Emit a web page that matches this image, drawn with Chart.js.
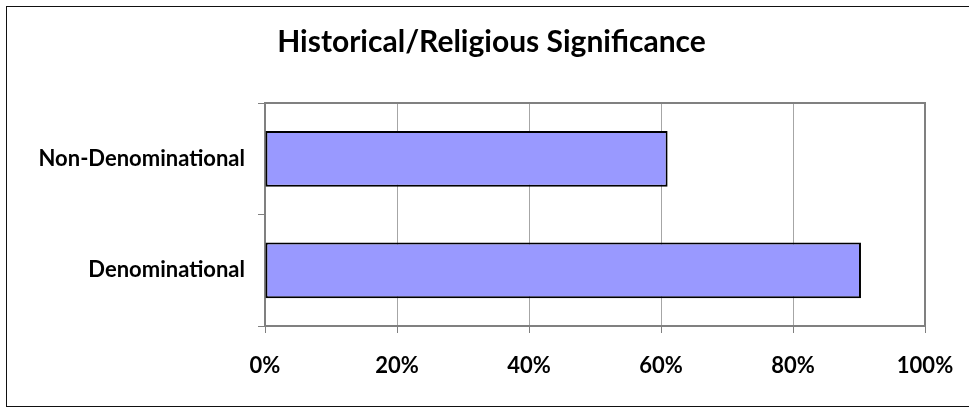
<!DOCTYPE html>
<html>
  <head>
    <title>Historical/Religious Significance</title>
    <script src="https://cdn.jsdelivr.net/npm/chart.js"></script>
    <style>
      body {
        margin: 0;
        background: #ffffff;
        font-family: Lato, "Open Sans", sans-serif;
      }
      .frame {
        position: absolute;
        left: 6px;
        top: 6px;
        width: 970px;
        height: 401px;
        border: 1.5px solid #111111;
        box-sizing: border-box;
      }
      .chart-box {
        position: absolute;
        left: 0;
        top: 0;
        width: 969px;
        height: 410px;
      }
    </style>
  </head>
  <body>
    <div class="frame"></div>
    <div class="chart-box">
      <canvas id="sigChart"></canvas>
    </div>

    <script>
      // values
      const categories = ["Non-Denominational", "Denominational"];
      const shares = [61, 90.3];
      const xTickValues = [0, 20, 40, 60, 80, 100];

      const barColor = "#9999FF";
      const gridColor = "#a6a6a6";
      const axisColor = "#808080";

      // top and right edge of the plot area, and title nudged to the right like the original
      const plotFrame = {
        id: "plotFrame",
        afterLayout(chart) {
          if (chart.titleBlock) chart.titleBlock.left = 58;
        },
        afterDraw(chart) {
          const { ctx, chartArea: a } = chart;
          ctx.save();
          ctx.strokeStyle = axisColor;
          ctx.lineWidth = 2;
          ctx.beginPath();
          ctx.moveTo(a.left, a.top);
          ctx.lineTo(a.right, a.top);
          ctx.lineTo(a.right, a.bottom);
          ctx.stroke();
          ctx.restore();
        },
      };

      new Chart(document.getElementById("sigChart"), {
        type: "bar",
        data: {
          labels: categories,
          datasets: [
            {
              data: shares,
              backgroundColor: barColor,
              borderColor: "#000000",
              borderWidth: 2,
              borderSkipped: false,
              barPercentage: 0.5,
              categoryPercentage: 1,
            },
          ],
        },
        options: {
          indexAxis: "y",
          responsive: true,
          maintainAspectRatio: false,
          animation: false,
          events: [],
          layout: { padding: { left: 0, right: 44, top: 0, bottom: 33 } },
          plugins: {
            legend: { display: false },
            tooltip: { enabled: false },
            title: {
              display: true,
              text: "Historical/Religious Significance",
              color: "#000000",
              font: { family: "Lato", size: 30, weight: "bold" },
              padding: { top: 24, bottom: 43 },
            },
          },
          scales: {
            x: {
              min: 0,
              max: 100,
              afterBuildTicks: (scale) => {
                scale.ticks = xTickValues.map((v) => ({ value: v }));
              },
              afterFit: (scale) => {
                scale.height = 51;
                scale.paddingLeft = 0;
                scale.paddingRight = 0;
              },
              ticks: {
                color: "#000000",
                padding: 20,
                font: { family: "Lato", size: 22, weight: "bold" },
                callback: (v) => v + "%",
              },
              grid: { color: gridColor, tickColor: axisColor, tickLength: 7, lineWidth: 1 },
              border: { color: axisColor, width: 2 },
            },
            y: {
              afterFit: (scale) => {
                scale.width = 265;
              },
              ticks: {
                color: "#000000",
                padding: 13,
                font: { family: "Lato", size: 22, weight: "bold" },
              },
              grid: {
                offset: true,
                drawOnChartArea: false,
                tickColor: axisColor,
                tickLength: 7,
              },
              border: { color: axisColor, width: 2 },
            },
          },
        },
        plugins: [plotFrame],
      });
    </script>
  </body>
</html>
